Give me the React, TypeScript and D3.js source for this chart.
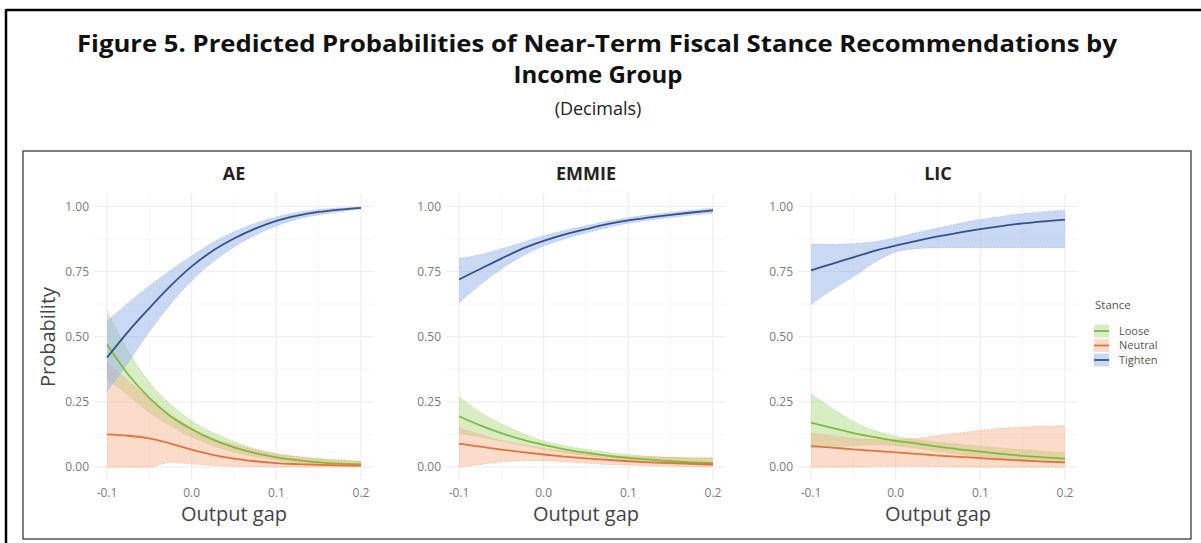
import React from 'react';
import * as d3 from 'd3';

// output gap grid used for the predicted curves
const GAP = [-0.1, -0.075, -0.05, -0.025, 0, 0.025, 0.05, 0.075, 0.1, 0.125, 0.15, 0.175, 0.2];

const PANELS = ['AE', 'EMMIE', 'LIC'];
const STANCES = ['Loose', 'Neutral', 'Tighten'];
const X_TICKS = [-0.1, 0, 0.1, 0.2];
const X_MINOR = [-0.05, 0.05, 0.15];
const Y_TICKS = [0, 0.25, 0.5, 0.75, 1];
const Y_MINOR = [0.125, 0.375, 0.625, 0.875];

// AE
const aeLooseFit = [0.47, 0.355, 0.265, 0.195, 0.145, 0.105, 0.075, 0.053, 0.037, 0.026, 0.018, 0.013, 0.01];
const aeLooseLo = [0.34, 0.275, 0.21, 0.158, 0.115, 0.082, 0.058, 0.04, 0.027, 0.017, 0.011, 0.007, 0.004];
const aeLooseHi = [0.6, 0.445, 0.325, 0.24, 0.178, 0.132, 0.097, 0.07, 0.051, 0.039, 0.031, 0.025, 0.021];
const aeNeutralFit = [0.125, 0.12, 0.11, 0.09, 0.067, 0.047, 0.032, 0.022, 0.015, 0.011, 0.008, 0.006, 0.005];
const aeNeutralLo = [0, 0, 0, 0.018, 0.012, 0.006, 0.003, 0.002, 0.001, 0, 0, 0, 0];
const aeNeutralHi = [0.4, 0.33, 0.26, 0.2, 0.15, 0.11, 0.085, 0.065, 0.05, 0.04, 0.032, 0.027, 0.022];
const aeTightenFit = [0.42, 0.52, 0.61, 0.695, 0.77, 0.83, 0.877, 0.915, 0.945, 0.965, 0.979, 0.988, 0.995];
const aeTightenLo = [0.29, 0.4, 0.52, 0.625, 0.715, 0.787, 0.845, 0.89, 0.925, 0.952, 0.968, 0.98, 0.99];
const aeTightenHi = [0.56, 0.63, 0.695, 0.755, 0.81, 0.862, 0.903, 0.935, 0.96, 0.977, 0.988, 0.994, 0.998];

// EMMIE
const emLooseFit = [0.195, 0.16, 0.13, 0.105, 0.085, 0.068, 0.055, 0.044, 0.035, 0.028, 0.022, 0.018, 0.015];
const emLooseLo = [0.13, 0.115, 0.1, 0.085, 0.07, 0.056, 0.045, 0.035, 0.026, 0.018, 0.012, 0.008, 0.005];
const emLooseHi = [0.27, 0.21, 0.165, 0.13, 0.1, 0.082, 0.067, 0.056, 0.047, 0.041, 0.037, 0.035, 0.035];
const emNeutralFit = [0.09, 0.078, 0.067, 0.057, 0.048, 0.04, 0.033, 0.027, 0.022, 0.018, 0.015, 0.012, 0.01];
const emNeutralLo = [0, 0.01, 0.02, 0.025, 0.025, 0.02, 0.015, 0.01, 0.008, 0.005, 0.003, 0.002, 0.001];
const emNeutralHi = [0.15, 0.125, 0.1, 0.085, 0.07, 0.06, 0.05, 0.045, 0.04, 0.038, 0.036, 0.035, 0.035];
const emTightenFit = [0.72, 0.76, 0.8, 0.838, 0.868, 0.893, 0.913, 0.932, 0.947, 0.958, 0.968, 0.977, 0.985];
const emTightenLo = [0.63, 0.7, 0.76, 0.81, 0.848, 0.876, 0.898, 0.919, 0.936, 0.948, 0.958, 0.967, 0.975];
const emTightenHi = [0.8, 0.815, 0.837, 0.862, 0.888, 0.908, 0.926, 0.943, 0.957, 0.968, 0.977, 0.985, 0.993];

// LIC
const licLooseFit = [0.17, 0.15, 0.13, 0.115, 0.1, 0.09, 0.078, 0.068, 0.059, 0.05, 0.043, 0.037, 0.032];
const licLooseLo = [0.075, 0.08, 0.083, 0.085, 0.082, 0.072, 0.06, 0.048, 0.038, 0.03, 0.023, 0.018, 0.014];
const licLooseHi = [0.28, 0.225, 0.175, 0.14, 0.118, 0.105, 0.095, 0.087, 0.08, 0.073, 0.066, 0.06, 0.055];
const licNeutralFit = [0.08, 0.074, 0.068, 0.062, 0.056, 0.05, 0.044, 0.039, 0.034, 0.029, 0.025, 0.021, 0.018];
const licNeutralLo = [0, 0, 0, 0.002, 0.003, 0.003, 0.002, 0.001, 0, 0, 0, 0, 0];
const licNeutralHi = [0.13, 0.12, 0.11, 0.105, 0.105, 0.11, 0.12, 0.13, 0.14, 0.148, 0.153, 0.156, 0.158];
const licTightenFit = [0.755, 0.78, 0.805, 0.83, 0.85, 0.868, 0.885, 0.9, 0.913, 0.925, 0.935, 0.943, 0.95];
const licTightenLo = [0.625, 0.68, 0.73, 0.785, 0.825, 0.838, 0.842, 0.842, 0.842, 0.842, 0.842, 0.842, 0.842];
const licTightenHi = [0.855, 0.855, 0.857, 0.865, 0.88, 0.9, 0.917, 0.935, 0.95, 0.962, 0.972, 0.98, 0.986];

const SERIES: Record<string, { fit: number[]; lo: number[]; hi: number[] }[]> = {
  AE: [
    { fit: aeLooseFit, lo: aeLooseLo, hi: aeLooseHi },
    { fit: aeNeutralFit, lo: aeNeutralLo, hi: aeNeutralHi },
    { fit: aeTightenFit, lo: aeTightenLo, hi: aeTightenHi },
  ],
  EMMIE: [
    { fit: emLooseFit, lo: emLooseLo, hi: emLooseHi },
    { fit: emNeutralFit, lo: emNeutralLo, hi: emNeutralHi },
    { fit: emTightenFit, lo: emTightenLo, hi: emTightenHi },
  ],
  LIC: [
    { fit: licLooseFit, lo: licLooseLo, hi: licLooseHi },
    { fit: licNeutralFit, lo: licNeutralLo, hi: licNeutralHi },
    { fit: licTightenFit, lo: licTightenLo, hi: licTightenHi },
  ],
};

const LINE_COLORS = ['#7fba3e', '#e3733a', '#36508f'];
const BAND_COLORS = ['#a8d67a', '#f5a77c', '#9db8ea'];
const BAND_OPACITY = [0.45, 0.4, 0.55];

const FONT = '"Open Sans", "Noto Sans", sans-serif';

const W = 1201;
const H = 543;
const PANEL_W = 254;
const PANEL_STEP = 352;
const PANEL_X0 = 107;

const Panel: React.FC<{ name: string; index: number }> = ({ name, index }) => {
  const left = PANEL_X0 + index * PANEL_STEP;
  const x = d3.scaleLinear().domain([-0.1, 0.2]).range([left, left + PANEL_W]);
  const y = d3.scaleLinear().domain([0, 1]).range([467, 206.5]);
  const xMin = x(-0.115), xMax = x(0.215);
  const yMin = y(-0.05), yMax = y(1.05);
  const cx = (x(-0.1) + x(0.2)) / 2;

  const line = d3.line<number>()
    .x((_, i) => x(GAP[i]))
    .y(d => y(d))
    .curve(d3.curveMonotoneX);

  const area = (lo: number[], hi: number[]) =>
    d3.area<number>()
      .x((_, i) => x(GAP[i]))
      .y0((_, i) => y(lo[i]))
      .y1((_, i) => y(hi[i]))
      .curve(d3.curveMonotoneX)(GAP);

  const series = SERIES[name];

  return (
    <g>
      {/* grid */}
      {X_MINOR.map(t => (
        <line key={'xm' + t} x1={x(t)} x2={x(t)} y1={yMin} y2={yMax} stroke="#f4f4f4" strokeWidth={0.8} />
      ))}
      {Y_MINOR.map(t => (
        <line key={'ym' + t} x1={xMin} x2={xMax} y1={y(t)} y2={y(t)} stroke="#f4f4f4" strokeWidth={0.8} />
      ))}
      {X_TICKS.map(t => (
        <line key={'x' + t} x1={x(t)} x2={x(t)} y1={yMin} y2={yMax} stroke="#ebebeb" strokeWidth={1} />
      ))}
      {Y_TICKS.map(t => (
        <line key={'y' + t} x1={xMin} x2={xMax} y1={y(t)} y2={y(t)} stroke="#ebebeb" strokeWidth={1} />
      ))}

      {/* ribbons */}
      {series.map((s, k) => (
        <g key={'band' + k}>
          <path d={area(s.lo, s.hi) || ''} fill={BAND_COLORS[k]} fillOpacity={BAND_OPACITY[k]} />
          <path d={line(s.hi) || ''} fill="none" stroke={BAND_COLORS[k]} strokeWidth={1} strokeDasharray="1.5,1.5" opacity={0.7} />
          <path d={line(s.lo) || ''} fill="none" stroke={BAND_COLORS[k]} strokeWidth={1} strokeDasharray="1.5,1.5" opacity={0.7} />
        </g>
      ))}
      {/* fitted lines */}
      {series.map((s, k) => (
        <path key={'line' + k} d={line(s.fit) || ''} fill="none" stroke={LINE_COLORS[k]} strokeWidth={1.8} />
      ))}

      {/* axes text */}
      {Y_TICKS.map(t => (
        <text key={'yl' + t} x={x(-0.1) - 18} y={y(t)} dy="0.35em" textAnchor="end" fontSize={12} fill="#7a7a7a" fontFamily={FONT}>
          {t.toFixed(2)}
        </text>
      ))}
      {X_TICKS.map(t => (
        <text key={'xl' + t} x={x(t)} y={497} textAnchor="middle" fontSize={12} fill="#7a7a7a" fontFamily={FONT}>
          {t.toFixed(1)}
        </text>
      ))}
      <text x={cx} y={180} textAnchor="middle" fontSize={18} fontWeight={700} fill="#222" fontFamily={FONT}>
        {name}
      </text>
      <text x={cx} y={521} textAnchor="middle" fontSize={20} fill="#444" fontFamily={FONT}>
        Output gap
      </text>
    </g>
  );
};

export default function App() {
  const legendX = 1094;
  const legendY = [331, 345.5, 360];
  return (
    <div style={{ position: 'absolute', left: 0, top: 0 }}>
      <svg width={W} height={H} style={{ display: 'block', background: '#fff' }}>
        {/* outer box */}
        <line x1={6} x2={W} y1={10} y2={10} stroke="#000" strokeWidth={2.5} />
        <line x1={6} x2={6} y1={9} y2={H} stroke="#000" strokeWidth={2.5} />

        <text x={597} y={52} textAnchor="middle" fontSize={24} fontWeight={700} fill="#111" fontFamily={FONT}
          textLength={1040} lengthAdjust="spacingAndGlyphs">
          Figure 5. Predicted Probabilities of Near-Term Fiscal Stance Recommendations by
        </text>
        <text x={598} y={83} textAnchor="middle" fontSize={24} fontWeight={700} fill="#111" fontFamily={FONT}>
          Income Group
        </text>
        <text x={598} y={115} textAnchor="middle" fontSize={18} fill="#222" fontFamily={FONT}>
          (Decimals)
        </text>

        {/* chart frame */}
        <rect x={23} y={151} width={1168} height={388} fill="#fff" stroke="#3a3a3a" strokeWidth={1.3} />

        {PANELS.map((p, i) => (
          <Panel key={p} name={p} index={i} />
        ))}

        <text x={48} y={337} transform="rotate(-90 48 337)" textAnchor="middle" dy="0.35em" fontSize={20} fill="#444" fontFamily={FONT}>
          Probability
        </text>

        {/* legend */}
        <text x={legendX + 1} y={309} fontSize={11.5} fill="#555" fontFamily={FONT}>
          Stance
        </text>
        {STANCES.map((s, k) => (
          <g key={s}>
            <rect x={legendX} y={legendY[k] - 6.5} width={15} height={13} fill={BAND_COLORS[k]} fillOpacity={BAND_OPACITY[k]} />
            <line x1={legendX} x2={legendX + 15} y1={legendY[k]} y2={legendY[k]} stroke={LINE_COLORS[k]} strokeWidth={1.8} />
            <text x={legendX + 25} y={legendY[k]} dy="0.35em" fontSize={11} fill="#555" fontFamily={FONT}>
              {s}
            </text>
          </g>
        ))}
      </svg>
    </div>
  );
}
